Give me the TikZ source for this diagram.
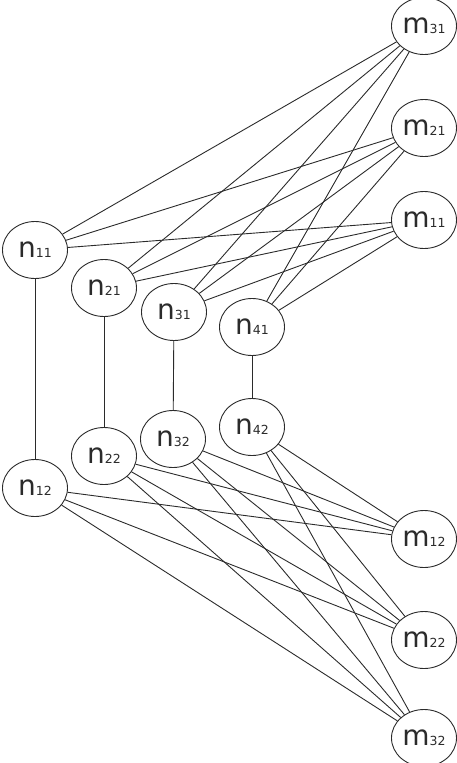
\documentclass[tikz,border=0pt]{standalone}
\usepackage{fontspec}
\setmainfont{DejaVu Sans}
\usetikzlibrary{shapes.geometric}
\definecolor{ink}{HTML}{2B2B2B}
\newcommand{\idx}[1]{{\fontsize{12.5}{12.5}\selectfont #1}}

\begin{document}
\begin{tikzpicture}[
  x=1pt,y=-1pt,
  vertex/.style={ellipse,draw=ink,line width=.9pt,fill=white,inner sep=0pt,
    minimum width=65pt,minimum height=57pt,font=\fontsize{28}{28}\selectfont,text=ink},
  link/.style={draw=ink,line width=.9pt}
]
\useasboundingbox (0,0) rectangle (457,763);

% Upper row
\node[vertex] (n11) at (35,250) {n\idx{11}};
\node[vertex] (n21) at (104,288) {n\idx{21}};
\node[vertex] (n31) at (174,312) {n\idx{31}};
\node[vertex] (n41) at (252,327) {n\idx{41}};

% Lower row
\node[vertex] (n12) at (35,488) {n\idx{12}};
\node[vertex] (n22) at (104,456) {n\idx{22}};
\node[vertex] (n32) at (173,439) {n\idx{32}};
\node[vertex] (n42) at (252,427) {n\idx{42}};

% Right column
\node[vertex] (m31) at (424,26) {m\idx{31}};
\node[vertex] (m21) at (424,128) {m\idx{21}};
\node[vertex] (m11) at (424,220) {m\idx{11}};
\node[vertex] (m12) at (424,539) {m\idx{12}};
\node[vertex] (m22) at (424,640) {m\idx{22}};
\node[vertex] (m32) at (424,738) {m\idx{32}};

% Links
\foreach \i in {1,...,4} {
  \draw[link] (n\i1) -- (n\i2);
  \foreach \j in {1,2,3} {
    \draw[link] (n\i1) -- (m\j1);
    \draw[link] (n\i2) -- (m\j2);
  }
}
\end{tikzpicture}
\end{document}
